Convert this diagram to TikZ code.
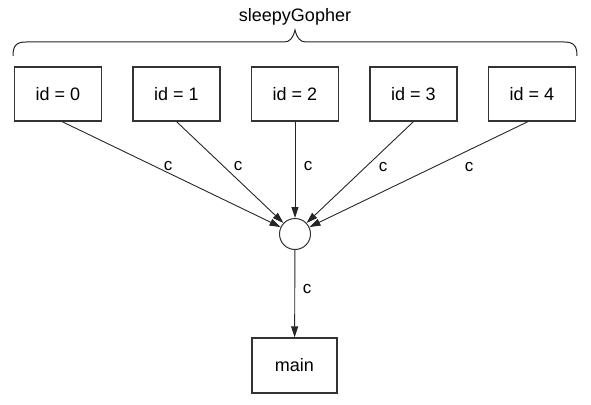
\documentclass[tikz,border=0pt]{standalone}
\usepackage{fontspec}
\setmainfont{Liberation Sans}
\usetikzlibrary{arrows.meta}
\begin{document}
\begin{tikzpicture}[x=1pt,y=-1pt,
  box/.style={draw=black!80,line width=1.2pt,minimum width=87pt,minimum height=54pt,inner sep=0pt,font=\fontsize{18}{20}\selectfont},
  hub/.style={draw=black!80,line width=1pt,circle,minimum size=31pt,inner sep=0pt},
  conn/.style={draw=black!85,line width=0.9pt,-{Triangle[length=11pt,width=7pt]}},
  lbl/.style={inner sep=0pt,font=\fontsize{17}{19}\selectfont},
  ttl/.style={inner sep=0pt,font=\fontsize{18}{20}\selectfont}]
\useasboundingbox (0,0) rectangle (591,404);
\node[box] (b0) at (58,94) {id = 0};
\node[box] (b1) at (176.5,94) {id = 1};
\node[box] (b2) at (295,94) {id = 2};
\node[box] (b3) at (413.5,94) {id = 3};
\node[box] (b4) at (532,94) {id = 4};
\node[hub] (hub) at (295,234) {};
\node[box,minimum width=85pt,minimum height=55pt] (main) at (294.5,365.5) {main};
\node[ttl] (title) at (295,17) {sleepyGopher};
\draw[black!85,line width=1pt] (13,56) .. controls (13,46) and (16,42) .. (26,42) -- (284,42)
  .. controls (290,42) and (293,38) .. (295,30) .. controls (297,38) and (300,42) .. (306,42)
  -- (564,42) .. controls (574,42) and (577,46) .. (577,56);
\draw[conn] ([xshift=4pt]b0.south) -- (hub);
\draw[conn] (b1.south) -- (hub);
\draw[conn] (b2.south) -- (hub);
\draw[conn] (b3.south) -- (hub);
\draw[conn] ([xshift=-4pt]b4.south) -- (hub);
\draw[conn] (hub) -- (main);
\node[lbl] (l0) at (168,166) {c};
\node[lbl] (l1) at (238,166) {c};
\node[lbl] (l2) at (308,166) {c};
\node[lbl] (l3) at (383,167) {c};
\node[lbl] (l4) at (469,167) {c};
\node[lbl] (l5) at (307,289) {c};
\end{tikzpicture}
\end{document}
